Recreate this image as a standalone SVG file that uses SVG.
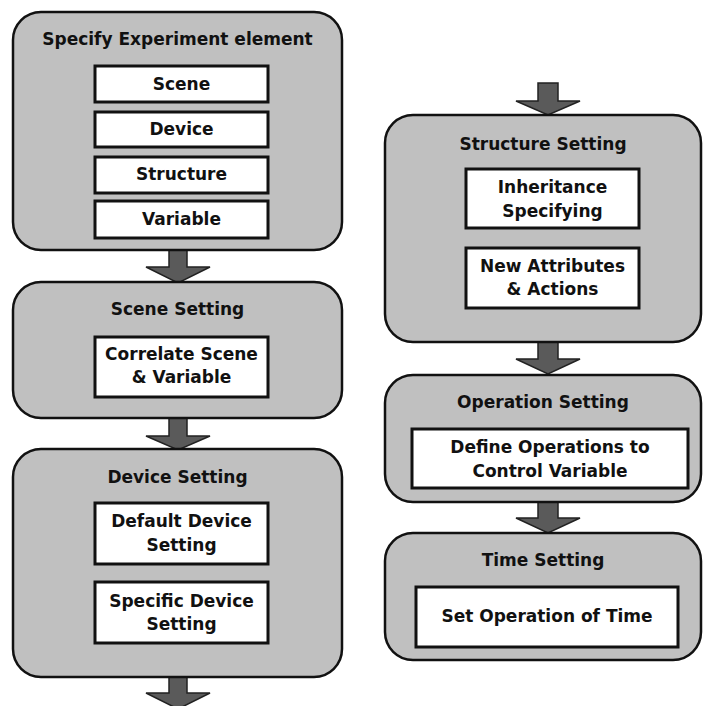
<svg xmlns="http://www.w3.org/2000/svg" width="703" height="706" viewBox="0 0 703 706">
<style>
.outer{fill:#c0c0c0;stroke:#111;stroke-width:2.5}
.inner{fill:#fff;stroke:#111;stroke-width:3}
.arrow{fill:#5a5a5a;stroke:#222;stroke-width:1.5;stroke-linejoin:miter}
text{font-family:"DejaVu Sans","Liberation Sans",sans-serif;font-weight:bold;font-size:17px;fill:#111;text-anchor:middle}
</style>
<rect width="703" height="706" fill="#fff"/>
<g id="connectors">
<path class="arrow" d="M169,250 H187 V267 H210 L178,283 L146,267 H169 Z"/>
<path class="arrow" d="M169,418 H187 V436 H210 L178,450 L146,436 H169 Z"/>
<path class="arrow" d="M169,677 H187 V693 H210 L178,709 L146,693 H169 Z"/>
<path class="arrow" d="M538,83 H558 V101 H580 L548,115 L516,101 H538 Z"/>
<path class="arrow" d="M538,342 H558 V359 H580 L548,374 L516,359 H538 Z"/>
<path class="arrow" d="M538,502 H558 V518 H580 L548,533 L516,518 H538 Z"/>
</g>
<g id="specify">
<rect class="outer" x="13" y="12" width="329" height="238" rx="28"/>
<text x="177.5" y="45">Specify Experiment element</text>
<rect class="inner" x="95" y="66" width="173" height="36"/>
<text x="181.5" y="90">Scene</text>
<rect class="inner" x="95" y="112" width="173" height="35"/>
<text x="181.5" y="135">Device</text>
<rect class="inner" x="95" y="157" width="173" height="36"/>
<text x="181.5" y="180">Structure</text>
<rect class="inner" x="95" y="201" width="173" height="37"/>
<text x="181.5" y="225">Variable</text>
</g>
<g id="scene">
<rect class="outer" x="13" y="282" width="329" height="136" rx="28"/>
<text x="177.5" y="315">Scene Setting</text>
<rect class="inner" x="95" y="337" width="173" height="60"/>
<text x="181.5" y="360">Correlate Scene</text>
<text x="181.5" y="383">&amp; Variable</text>
</g>
<g id="device">
<rect class="outer" x="13" y="449" width="329" height="228" rx="28"/>
<text x="177.5" y="483">Device Setting</text>
<rect class="inner" x="95" y="503" width="173" height="61"/>
<text x="181.5" y="527">Default Device</text>
<text x="181.5" y="551">Setting</text>
<rect class="inner" x="95" y="582" width="173" height="61"/>
<text x="181.5" y="607">Specific Device</text>
<text x="181.5" y="630">Setting</text>
</g>
<g id="structure">
<rect class="outer" x="385" y="115" width="316" height="227" rx="28"/>
<text x="543" y="150">Structure Setting</text>
<rect class="inner" x="466" y="169" width="173" height="59"/>
<text x="552.5" y="193">Inheritance</text>
<text x="552.5" y="217">Specifying</text>
<rect class="inner" x="466" y="248" width="173" height="60"/>
<text x="552.5" y="272">New Attributes</text>
<text x="552.5" y="295">&amp; Actions</text>
</g>
<g id="operation">
<rect class="outer" x="385" y="375" width="316" height="127" rx="28"/>
<text x="543" y="408">Operation Setting</text>
<rect class="inner" x="412" y="429" width="276" height="59"/>
<text x="550" y="453">Define Operations to</text>
<text x="550" y="477">Control Variable</text>
</g>
<g id="time">
<rect class="outer" x="385" y="533" width="316" height="127" rx="28"/>
<text x="543" y="566">Time Setting</text>
<rect class="inner" x="416" y="587" width="262" height="60"/>
<text x="547" y="622">Set Operation of Time</text>
</g>
</svg>
